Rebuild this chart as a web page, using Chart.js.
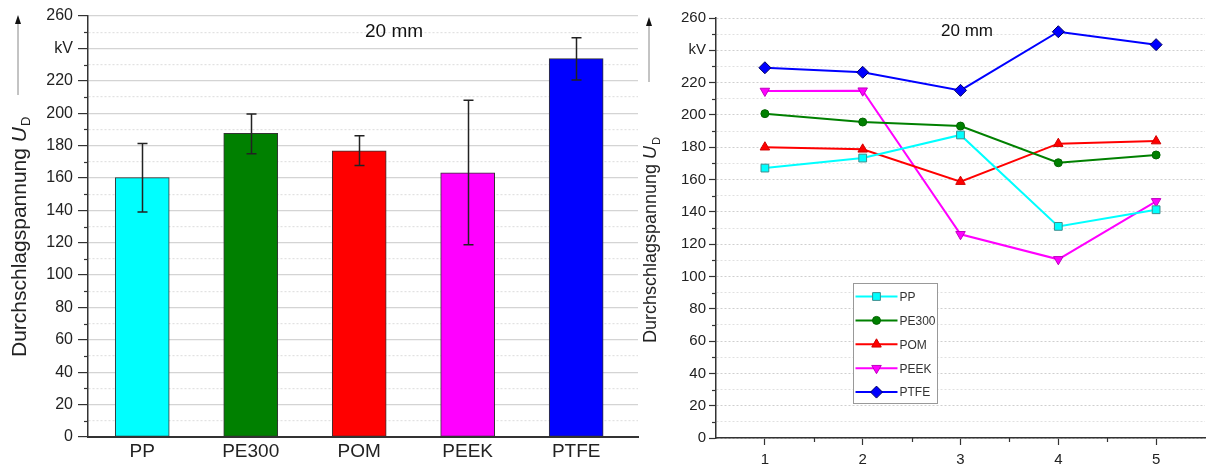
<!DOCTYPE html>
<html lang="de">
<head>
<meta charset="UTF-8">
<title>Durchschlagspannung 20 mm</title>
<script src="https://cdn.jsdelivr.net/npm/chart.js"></script>
<style>
  html, body { margin: 0; padding: 0; background: #fff; }
  #wrap { position: relative; width: 1212px; height: 465px; overflow: hidden; }
  #barBox { position: absolute; left: 0; top: 0; width: 640px; height: 465px; }
  #lineBox { position: absolute; left: 640px; top: 0; width: 572px; height: 465px; }
</style>
</head>
<body>
<div id="wrap">
  <div id="barBox"><canvas id="barChart"></canvas></div>
  <div id="lineBox"><canvas id="lineChart"></canvas></div>
</div>

<script>
// left chart: mean breakdown voltage per material, with min/max error bars
const materials = ['PP', 'PE300', 'POM', 'PEEK', 'PTFE'];
const meanUd = [160.2, 187.5, 176.8, 163.2, 233.7];
const errHigh = [181.3, 199.5, 186.1, 207.9, 246.6];
const errLow = [139.0, 175.0, 167.6, 118.8, 220.5];

// right chart: the single runs 1..5
const runs = [1, 2, 3, 4, 5];
const ppRuns = [167.1, 173.3, 187.6, 131.0, 141.3];
const pe300Runs = [200.8, 195.6, 193.1, 170.4, 175.2];
const pomRuns = [180.0, 178.7, 158.7, 182.2, 183.8];
const peekRuns = [214.8, 215.0, 126.1, 110.6, 146.5];
const ptfeRuns = [229.2, 226.4, 215.2, 251.5, 243.5];

// y axis ticks, 240 is shown as the unit
const yMajorTicks = [0, 20, 40, 60, 80, 100, 120, 140, 160, 180, 200, 220, 240, 260];
const unitTick = 240;
const gapLabel = '20 mm';

const FONT = 'Arial, "Liberation Sans", sans-serif';
const matColors = ['#00ffff', '#008000', '#ff0000', '#ff00ff', '#0000ff'];
const yMinorTicks = yMajorTicks.slice(0, -1).map(v => v + 10);
const yAllTicks = yMajorTicks.concat(yMinorTicks).sort((a, b) => a - b);

function yLabel(v) {
    if (v % 20 !== 0) return '';
    return v === unitTick ? 'kV' : String(v);
}

// rotated axis title with italic U and subscript D, plus the arrow above it
function axisTitle(id, x, startY, size, arrowX, arrowTop, arrowBottom) {
    return {
        id: id,
        afterDraw(chart) {
            const ctx = chart.ctx;
            ctx.save();
            ctx.translate(x, startY);
            ctx.rotate(-Math.PI / 2);
            ctx.fillStyle = '#222';
            ctx.textBaseline = 'middle';
            ctx.textAlign = 'left';
            ctx.font = size + 'px ' + FONT;
            const main = 'Durchschlagspannung ';
            ctx.fillText(main, 0, 0);
            let w = ctx.measureText(main).width;
            ctx.font = 'italic ' + size + 'px ' + FONT;
            ctx.fillText('U', w, 0);
            w += ctx.measureText('U').width + 1;
            ctx.font = Math.round(size * 0.6) + 'px ' + FONT;
            ctx.fillText('D', w, size * 0.32);
            ctx.restore();

            ctx.save();
            ctx.strokeStyle = '#888';
            ctx.lineWidth = 1;
            ctx.beginPath();
            ctx.moveTo(arrowX, arrowBottom);
            ctx.lineTo(arrowX, arrowTop + 6);
            ctx.stroke();
            ctx.fillStyle = '#111';
            ctx.beginPath();
            ctx.moveTo(arrowX, arrowTop);
            ctx.lineTo(arrowX - 3, arrowTop + 9);
            ctx.lineTo(arrowX + 3, arrowTop + 9);
            ctx.closePath();
            ctx.fill();
            ctx.restore();
        }
    };
}

function gapText(id, x, y, size) {
    return {
        id: id,
        afterDraw(chart) {
            const ctx = chart.ctx;
            ctx.save();
            ctx.fillStyle = '#111';
            ctx.font = size + 'px ' + FONT;
            ctx.textAlign = 'center';
            ctx.textBaseline = 'middle';
            ctx.fillText(gapLabel, x, y);
            ctx.restore();
        }
    };
}

// short minor tick marks, outside the axes
function minorTicks(id, items) {
    return {
        id: id,
        afterDraw(chart) {
            const ctx = chart.ctx;
            ctx.save();
            ctx.strokeStyle = '#333';
            ctx.lineWidth = 1.2;
            items.forEach(it => {
                const s = chart.scales[it.axis];
                it.values.forEach(v => {
                    const p = Math.round(s.getPixelForValue(v)) + 0.5;
                    ctx.beginPath();
                    if (it.axis === 'y') {
                        ctx.moveTo(s.right - it.len, p);
                        ctx.lineTo(s.right, p);
                    } else {
                        ctx.moveTo(p, s.top);
                        ctx.lineTo(p, s.top + it.len);
                    }
                    ctx.stroke();
                });
            });
            ctx.restore();
        }
    };
}

const errorBars = {
    id: 'errorBars',
    afterDatasetsDraw(chart) {
        const ctx = chart.ctx;
        const xs = chart.scales.x, ys = chart.scales.y;
        ctx.save();
        ctx.strokeStyle = '#222';
        ctx.lineWidth = 1.5;
        materials.forEach((m, i) => {
            const x = Math.round(xs.getPixelForValue(i + 1)) + 0.5;
            const yh = ys.getPixelForValue(errHigh[i]);
            const yl = ys.getPixelForValue(errLow[i]);
            ctx.beginPath();
            ctx.moveTo(x, yh); ctx.lineTo(x, yl);
            ctx.moveTo(x - 5, yh); ctx.lineTo(x + 5, yh);
            ctx.moveTo(x - 5, yl); ctx.lineTo(x + 5, yl);
            ctx.stroke();
        });
        ctx.restore();
    }
};

// ---------- left: bar chart ----------
new Chart(document.getElementById('barChart'), {
    type: 'bar',
    data: {
        datasets: [{
            data: materials.map((m, i) => ({ x: i + 1, y: meanUd[i] })),
            backgroundColor: matColors,
            borderColor: '#333',
            borderWidth: 1,
            borderSkipped: false,
            barThickness: 54
        }]
    },
    options: {
        responsive: true,
        maintainAspectRatio: false,
        animation: false,
        layout: { padding: { top: 16, right: 2, left: 0, bottom: 0 } },
        plugins: { legend: { display: false }, tooltip: { enabled: false } },
        scales: {
            x: {
                type: 'linear',
                offset: false,
                min: 0.5,
                max: 5.57,
                afterBuildTicks: s => { s.ticks = materials.map((m, i) => ({ value: i + 1 })); },
                afterFit: s => { s.height = 28; },
                grid: { offset: false, drawOnChartArea: false, drawTicks: false },
                border: { color: '#333', width: 2 },
                ticks: {
                    autoSkip: false, maxRotation: 0, padding: 3,
                    color: '#222', font: { family: FONT, size: 19 },
                    callback: v => materials[Math.round(v) - 1]
                }
            },
            y: {
                min: 0,
                max: 260,
                afterBuildTicks: s => { s.ticks = yAllTicks.map(v => ({ value: v })); },
                afterFit: s => { s.width = 88; },
                grid: {
                    color: c => c.tick && c.tick.value % 20 === 0 ? '#d4d4d4' : '#e2e2e2',
                    lineWidth: 1.2,
                    tickLength: 10,
                    tickWidth: 1.2,
                    tickColor: c => c.tick && c.tick.value % 20 === 0 ? '#333' : 'rgba(0,0,0,0)'
                },
                border: {
                    color: '#333', width: 1.5,
                    dash: c => c.tick && c.tick.value % 20 !== 0 ? [2, 2] : []
                },
                ticks: {
                    autoSkip: false, padding: 5,
                    color: '#222', font: { family: FONT, size: 16 },
                    callback: v => yLabel(v)
                }
            }
        }
    },
    plugins: [
        errorBars,
        minorTicks('barMinor', [{ axis: 'y', values: yMinorTicks, len: 4 }]),
        axisTitle('barTitle', 20, 357, 21, 18, 15, 95),
        gapText('barGap', 394, 32, 19)
    ]
});

// ---------- right: single runs ----------
const seriesList = [
    { label: 'PP', runs: ppRuns, color: '#00ffff', edge: '#3d8d8d', style: 'rect', r: 5.5, rot: 0 },
    { label: 'PE300', runs: pe300Runs, color: '#008000', edge: '#006400', style: 'circle', r: 4, rot: 0 },
    { label: 'POM', runs: pomRuns, color: '#ff0000', edge: '#d00000', style: 'triangle', r: 5.5, rot: 0 },
    { label: 'PEEK', runs: peekRuns, color: '#ff00ff', edge: '#c000c0', style: 'triangle', r: 5.5, rot: 180 },
    { label: 'PTFE', runs: ptfeRuns, color: '#0000ff', edge: '#000060', style: 'rectRot', r: 6, rot: 0 }
];

const boxLegend = {
    id: 'boxLegend',
    afterDatasetsDraw(chart) {
        const ctx = chart.ctx;
        const left = 213.5, top = 283.5, w = 84, h = 120;
        ctx.save();
        ctx.fillStyle = '#fff';
        ctx.fillRect(left, top, w, h);
        ctx.strokeStyle = '#999';
        ctx.lineWidth = 1;
        ctx.strokeRect(left, top, w, h);
        chart.data.datasets.forEach((ds, i) => {
            const y = 296.5 + i * 23.9;
            ctx.strokeStyle = ds.borderColor;
            ctx.lineWidth = 2;
            ctx.beginPath();
            ctx.moveTo(left + 2, y);
            ctx.lineTo(left + 44, y);
            ctx.stroke();
            ctx.fillStyle = ds.pointBackgroundColor;
            ctx.strokeStyle = ds.pointBorderColor;
            ctx.lineWidth = 1;
            Chart.helpers.drawPoint(ctx, {
                pointStyle: ds.pointStyle, rotation: ds.pointRotation,
                radius: ds.pointRadius, borderWidth: 1
            }, left + 23, y);
            ctx.fillStyle = '#333';
            ctx.font = '12px ' + FONT;
            ctx.textAlign = 'left';
            ctx.textBaseline = 'middle';
            ctx.fillText(ds.label, left + 46, y + 1);
        });
        ctx.restore();
    }
};

new Chart(document.getElementById('lineChart'), {
    type: 'line',
    data: {
        datasets: seriesList.map(s => ({
            label: s.label,
            data: runs.map((r, i) => ({ x: r, y: s.runs[i] })),
            borderColor: s.color,
            backgroundColor: s.color,
            pointBackgroundColor: s.color,
            pointBorderColor: s.edge,
            pointBorderWidth: 1,
            pointStyle: s.style,
            pointRadius: s.r,
            pointRotation: s.rot,
            borderWidth: 2,
            tension: 0
        }))
    },
    options: {
        responsive: true,
        maintainAspectRatio: false,
        animation: false,
        layout: { padding: { top: 18, right: 0, left: 0, bottom: 0 } },
        plugins: { legend: { display: false }, tooltip: { enabled: false } },
        scales: {
            x: {
                type: 'linear',
                min: 0.5,
                max: 5.5,
                afterBuildTicks: s => { s.ticks = runs.map(v => ({ value: v })); },
                afterFit: s => { s.height = 27; },
                grid: { drawOnChartArea: false, tickLength: 7, tickWidth: 1.2, tickColor: '#333' },
                border: { color: '#333', width: 1.5 },
                ticks: {
                    autoSkip: false, maxRotation: 0, padding: 6,
                    color: '#222', font: { family: FONT, size: 15 }
                }
            },
            y: {
                min: 0,
                max: 260,
                afterBuildTicks: s => { s.ticks = yAllTicks.map(v => ({ value: v })); },
                afterFit: s => { s.width = 76; },
                grid: {
                    color: c => c.tick && c.tick.value % 20 === 0 ? '#cfcfcf' : '#e0e0e0',
                    lineWidth: 1,
                    tickLength: 7,
                    tickWidth: 1.2,
                    tickColor: c => c.tick && c.tick.value % 20 === 0 ? '#333' : 'rgba(0,0,0,0)'
                },
                border: {
                    color: '#333', width: 1.5,
                    dash: c => c.tick ? [2, 2] : []
                },
                ticks: {
                    autoSkip: false, padding: 3,
                    color: '#222', font: { family: FONT, size: 15 },
                    callback: v => yLabel(v)
                }
            }
        }
    },
    plugins: [
        boxLegend,
        minorTicks('lineMinor', [
            { axis: 'y', values: yMinorTicks, len: 4 },
            { axis: 'x', values: [1.5, 2.5, 3.5, 4.5], len: 4 }
        ]),
        axisTitle('lineTitle', 11, 343, 18, 9, 17, 82),
        gapText('lineGap', 327, 31, 17)
    ]
});
</script>
</body>
</html>
